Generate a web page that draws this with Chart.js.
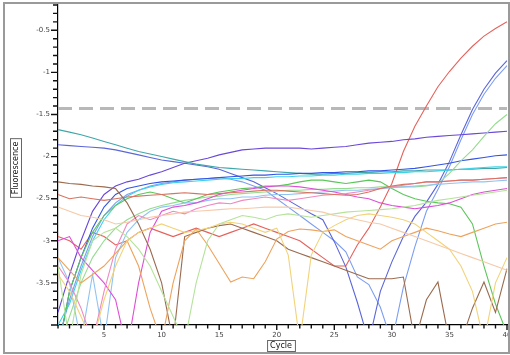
<!DOCTYPE html>
<html><head><meta charset="utf-8">
<script src="https://cdn.jsdelivr.net/npm/chart.js@4"></script>
<style>html,body{margin:0;padding:0;background:#fff}#wrap{width:510px;height:355px}</style>
</head><body><div id="wrap"><canvas id="c" width="510" height="355"></canvas></div>
<script>
const cycles = [1,2,3,4,5,6,7,8,9,10,11,12,13,14,15,16,17,18,19,20,21,22,23,24,25,26,27,28,29,30,31,32,33,34,35,36,37,38,39,40];
const xTickLabels = ['5','10','15','20','25','30','35','40'];
const yTickLabels = ['-0.5','-1','-1.5','-2','-2.5','-3','-3.5'];
const THRESHOLD = -1.43;

const red = [-2.95,-3.0,-3.1,-2.9,-2.95,-3.05,-3.0,-2.9,-2.85,-2.9,-2.95,-2.9,-2.85,-2.9,-2.95,-2.9,-2.85,-2.8,-2.85,-2.9,-2.95,-3.0,-3.1,-3.2,-3.3,-3.3,-3.05,-2.85,-2.6,-2.32,-1.94,-1.64,-1.40,-1.17,-0.99,-0.83,-0.69,-0.57,-0.48,-0.40];
const blueA = [-1.86,-1.87,-1.88,-1.89,-1.9,-1.92,-1.95,-1.98,-2.01,-2.04,-2.06,-2.08,-2.1,-2.12,-2.15,-2.2,-2.25,-2.3,-2.37,-2.44,-2.52,-2.6,-2.68,-2.75,-3.01,-3.31,-3.73,-4.2,-3.6,-3.25,-2.95,-2.71,-2.54,-2.33,-2.06,-1.74,-1.44,-1.2,-1.01,-0.86];
const blueB = [-4.2,-3.7,-3.3,-2.95,-2.7,-2.55,-2.45,-2.4,-2.35,-2.32,-2.3,-2.28,-2.27,-2.26,-2.25,-2.27,-2.3,-2.35,-2.4,-2.5,-2.6,-2.7,-2.8,-2.9,-3.0,-3.13,-3.43,-3.52,-3.79,-4.2,-3.55,-3.07,-2.65,-2.39,-2.12,-1.8,-1.5,-1.26,-1.07,-0.92];
const violet = [-3.85,-3.4,-3.0,-2.65,-2.45,-2.35,-2.3,-2.27,-2.22,-2.18,-2.13,-2.08,-2.05,-2.02,-1.98,-1.95,-1.92,-1.91,-1.9,-1.9,-1.9,-1.9,-1.91,-1.9,-1.89,-1.88,-1.86,-1.84,-1.83,-1.82,-1.8,-1.79,-1.77,-1.76,-1.75,-1.74,-1.73,-1.72,-1.71,-1.70];
const teal = [-1.68,-1.71,-1.74,-1.78,-1.82,-1.86,-1.9,-1.94,-1.97,-2.0,-2.03,-2.06,-2.09,-2.11,-2.13,-2.14,-2.15,-2.16,-2.17,-2.18,-2.19,-2.2,-2.21,-2.21,-2.2,-2.2,-2.19,-2.19,-2.18,-2.18,-2.17,-2.17,-2.16,-2.16,-2.16,-2.15,-2.15,-2.14,-2.14,-2.13];
const blue = [-4.3,-3.6,-3.2,-2.85,-2.6,-2.45,-2.38,-2.35,-2.32,-2.3,-2.29,-2.28,-2.27,-2.26,-2.25,-2.24,-2.23,-2.22,-2.22,-2.21,-2.21,-2.2,-2.2,-2.19,-2.19,-2.18,-2.18,-2.17,-2.17,-2.16,-2.15,-2.14,-2.12,-2.1,-2.08,-2.05,-2.03,-2.01,-1.99,-1.98];
const cyan = [-4.0,-3.75,-3.35,-3.0,-2.75,-2.58,-2.47,-2.4,-2.36,-2.33,-2.31,-2.3,-2.29,-2.28,-2.27,-2.26,-2.26,-2.25,-2.25,-2.24,-2.24,-2.23,-2.23,-2.22,-2.22,-2.21,-2.21,-2.2,-2.2,-2.19,-2.19,-2.18,-2.18,-2.17,-2.16,-2.15,-2.14,-2.13,-2.12,-2.12];
const greenUp = [-4.3,-3.9,-3.5,-3.2,-3.0,-2.85,-2.75,-2.68,-2.62,-2.58,-2.55,-2.52,-2.5,-2.48,-2.47,-2.45,-2.44,-2.43,-2.42,-2.41,-2.4,-2.4,-2.39,-2.39,-2.38,-2.38,-2.37,-2.37,-2.36,-2.36,-2.36,-2.36,-2.35,-2.32,-2.2,-2.05,-1.92,-1.76,-1.61,-1.50];
const greenDown = [-4.3,-3.6,-3.2,-2.9,-2.7,-2.58,-2.5,-2.45,-2.42,-2.45,-2.5,-2.55,-2.5,-2.45,-2.42,-2.4,-2.38,-2.37,-2.35,-2.35,-2.33,-2.3,-2.28,-2.28,-2.3,-2.32,-2.3,-2.28,-2.3,-2.38,-2.45,-2.5,-2.53,-2.55,-2.56,-2.6,-2.8,-3.3,-3.75,-4.1];
const magenta = [-3.0,-2.95,-3.2,-3.35,-3.5,-3.7,-4.3,-3.5,-2.9,-2.65,-2.6,-2.58,-2.55,-2.5,-2.45,-2.42,-2.4,-2.38,-2.36,-2.35,-2.35,-2.36,-2.38,-2.4,-2.42,-2.45,-2.48,-2.5,-2.55,-2.58,-2.6,-2.62,-2.6,-2.58,-2.55,-2.5,-2.45,-2.42,-2.4,-2.38];
const pink = [-3.3,-3.5,-3.8,-4.2,-3.6,-3.1,-2.8,-2.7,-2.75,-2.7,-2.65,-2.68,-2.62,-2.58,-2.55,-2.56,-2.52,-2.5,-2.48,-2.5,-2.52,-2.5,-2.48,-2.46,-2.45,-2.44,-2.42,-2.4,-2.38,-2.36,-2.34,-2.32,-2.3,-2.3,-2.29,-2.28,-2.28,-2.27,-2.26,-2.25];
const orange = [-3.2,-3.35,-3.5,-3.4,-3.3,-3.15,-3.0,-3.3,-3.8,-4.2,-3.5,-3.0,-2.86,-3.05,-3.27,-3.49,-3.43,-3.45,-3.25,-2.98,-2.89,-2.86,-2.87,-2.89,-2.87,-2.95,-3.0,-3.05,-3.1,-3.0,-2.95,-2.9,-2.85,-2.88,-2.92,-2.95,-2.9,-2.85,-2.8,-2.78];
const yellow = [-3.4,-3.6,-3.9,-4.2,-3.7,-3.3,-3.0,-2.9,-2.85,-2.8,-2.85,-2.9,-2.88,-2.85,-2.8,-2.78,-2.8,-2.85,-2.9,-2.85,-3.17,-4.2,-3.17,-2.9,-2.82,-2.75,-2.7,-2.68,-2.7,-2.72,-2.75,-2.8,-2.9,-3.0,-3.1,-3.3,-3.6,-4.2,-3.5,-3.2];
const brown = [-2.3,-2.32,-2.33,-2.35,-2.36,-2.38,-2.55,-2.8,-3.1,-3.5,-4.2,-2.95,-2.9,-2.85,-2.82,-2.8,-2.85,-2.9,-2.95,-3.0,-3.1,-3.15,-3.2,-3.25,-3.3,-3.35,-3.4,-3.45,-3.45,-3.45,-3.43,-4.2,-3.7,-3.49,-4.2,-4.2,-3.8,-3.49,-3.85,-3.33];
const lightGreen = [-3.3,-4.2,-3.4,-3.0,-2.9,-2.85,-2.95,-3.1,-3.3,-3.6,-3.9,-4.2,-3.5,-3.0,-2.8,-2.75,-2.7,-2.72,-2.75,-2.7,-2.68,-2.7,-2.72,-2.7,-2.68,-2.66,-2.65,-2.64,-2.63,-2.62,-2.6,-2.58,-2.55,-2.52,-2.5,-2.48,-2.46,-2.44,-2.42,-2.4];
const peach = [-2.6,-2.65,-2.7,-2.72,-2.75,-2.8,-2.78,-2.75,-2.72,-2.7,-2.68,-2.66,-2.65,-2.64,-2.63,-2.62,-2.62,-2.61,-2.6,-2.6,-2.6,-2.62,-2.64,-2.66,-2.7,-2.72,-2.75,-2.78,-2.8,-2.85,-2.9,-2.95,-3.0,-3.05,-3.1,-3.15,-3.2,-3.25,-3.3,-3.35];
const salmon = [-2.45,-2.5,-2.48,-2.5,-2.52,-2.5,-2.48,-2.47,-2.46,-2.45,-2.44,-2.43,-2.44,-2.45,-2.44,-2.43,-2.42,-2.41,-2.4,-2.4,-2.41,-2.42,-2.43,-2.44,-2.45,-2.46,-2.45,-2.42,-2.38,-2.35,-2.33,-2.32,-2.3,-2.3,-2.29,-2.28,-2.28,-2.27,-2.26,-2.25];
const skyBlue = [-3.2,-3.5,-4.2,-3.4,-4.2,-3.2,-2.9,-2.75,-2.65,-2.6,-2.58,-2.55,-2.55,-2.52,-2.5,-2.5,-2.48,-2.48,-2.46,-2.45,-2.45,-2.44,-2.43,-2.42,-2.41,-2.4,-2.4,-2.39,-2.38,-2.37,-2.36,-2.35,-2.34,-2.33,-2.32,-2.31,-2.3,-2.3,-2.29,-2.28];

const series = [
  [peach,'#f6c9a8'],[yellow,'#f2d37a'],[lightGreen,'#b5e39a'],[orange,'#eea35c'],
  [brown,'#9a6b4f'],[salmon,'#d8735f'],[pink,'#f08ac0'],[magenta,'#de4fd6'],
  [skyBlue,'#8fc4f2'],[greenDown,'#5cc65a'],[greenUp,'#95dc8e'],[cyan,'#3fd2e6'],
  [blue,'#3454e2'],[teal,'#3fa6aa'],[violet,'#6a48d8'],[blueA,'#5b66d8'],
  [blueB,'#7d9ef0'],[red,'#e6625c']
];

const datasets = [{
  data: cycles.map(() => THRESHOLD), borderColor:'#b8b8b8', borderWidth:3,
  borderDash:[14,7], pointRadius:0, order:100
}].concat(series.map(([d,c]) => ({data:d, borderColor:c, borderWidth:1.1, pointRadius:0, tension:0})));

const frame = {
  id:'frame',
  afterDraw(chart){
    const ctx = chart.ctx, ca = chart.chartArea;
    const ys = chart.scales.y, xs = chart.scales.x;
    ctx.save();
    ctx.strokeStyle = '#111'; ctx.lineWidth = 1.4;
    ctx.beginPath();
    for (let k = 0; k <= 38; k++) {
      const v = ys.min + k * 0.1;
      const py = ys.getPixelForValue(v);
      const major = Math.abs(v * 2 - Math.round(v * 2)) < 1e-6;
      ctx.moveTo(ca.left - (major ? 7 : 5), py); ctx.lineTo(ca.left, py);
    }
    for (let i = 0; i < cycles.length; i++) {
      const px = xs.getPixelForValue(i);
      const major = cycles[i] % 5 === 0;
      ctx.moveTo(px, ca.bottom); ctx.lineTo(px, ca.bottom + (major ? 5 : 3.5));
    }
    ctx.stroke();
    ctx.strokeStyle = '#9a9a9a'; ctx.lineWidth = 2;
    ctx.strokeRect(4, 3, 505, 350);
    ctx.font = '8px "DejaVu Sans"'; ctx.fillStyle = '#111';
    ctx.textAlign = 'center'; ctx.textBaseline = 'middle';
    const xt = 'Cycle', xw = ctx.measureText(xt).width + 6;
    ctx.fillText(xt, 281, 346);
    ctx.strokeStyle = '#666'; ctx.lineWidth = 1;
    ctx.strokeRect(281 - xw/2 + 0.5, 340.5, xw, 11);
    ctx.translate(16, 168); ctx.rotate(-Math.PI/2);
    const yt = 'Fluorescence', yw = ctx.measureText(yt).width + 6;
    ctx.fillText(yt, 0, 0);
    ctx.strokeRect(-yw/2, -5.5, yw, 11);
    ctx.restore();
  }
};

new Chart(document.getElementById('c'), {
  type:'line',
  data:{ labels: cycles, datasets },
  options:{
    responsive:false, animation:false,
    layout:{ padding:{ top:5, right:3, left:0, bottom:0 } },
    plugins:{ legend:{display:false}, tooltip:{enabled:false} },
    scales:{
      x:{
        type:'category', offset:false,
        grid:{ drawOnChartArea:false, drawTicks:false, color:'#000' },
        border:{ color:'#000', width:1.2 },
        ticks:{ autoSkip:false, maxRotation:0, padding:6, color:'#444', font:{size:7, family:'DejaVu Sans'},
          callback:(v,i) => { const s = String(cycles[i]); return xTickLabels.includes(s) ? s : ''; } },
        afterFit:(s) => { s.height = 30; s.paddingRight = 0; s.paddingLeft = 0; }
      },
      y:{
        min:-4, max:-0.2,
        grid:{ drawOnChartArea:false, drawTicks:false, color:'#000' },
        border:{ color:'#000', width:1.2 },
        ticks:{ autoSkip:false, stepSize:0.1, padding:8, color:'#444', font:{size:7, family:'DejaVu Sans'},
          callback:(v) => { const s = String(Math.round(v*10)/10); return yTickLabels.includes(s) ? s : ''; } },
        afterFit:(s) => { s.width = 58; s.paddingTop = 0; s.paddingBottom = 0; }
      }
    }
  },
  plugins:[frame]
});
</script></body></html>
